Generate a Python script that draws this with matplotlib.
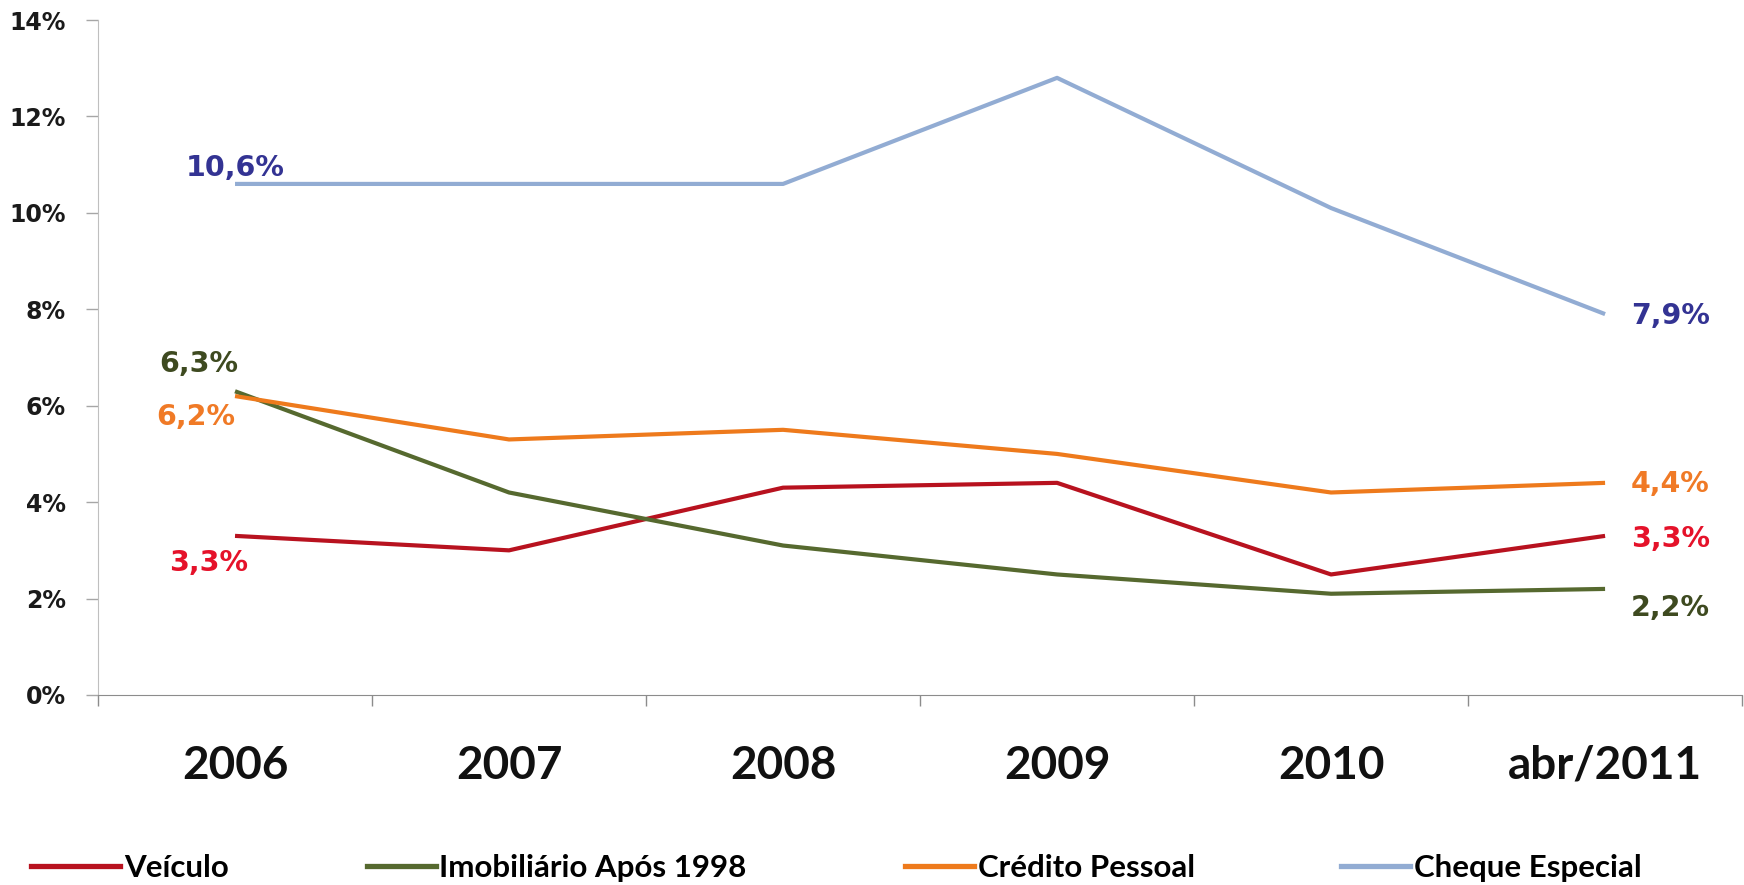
import matplotlib
matplotlib.use("Agg")
import matplotlib.pyplot as plt
from matplotlib.lines import Line2D

# Taxas de inadimplencia por modalidade (% da carteira)
anos = ["2006", "2007", "2008", "2009", "2010", "abr/2011"]
veiculo = [3.3, 3.0, 4.3, 4.4, 2.5, 3.3]
imobiliario = [6.3, 4.2, 3.1, 2.5, 2.1, 2.2]
credito_pessoal = [6.2, 5.3, 5.5, 5.0, 4.2, 4.4]
cheque_especial = [10.6, 10.6, 10.6, 12.8, 10.1, 7.9]

nomes = ["Veículo", "Imobiliário Após 1998", "Crédito Pessoal", "Cheque Especial"]
series = [veiculo, imobiliario, credito_pessoal, cheque_especial]
cores_linha = ["#B8121F", "#56692F", "#EE7A1C", "#92ACD3"]
cores_rotulo = ["#E5122A", "#3E4A20", "#F07A26", "#333393"]

# rotulos: (serie, indice, ha, dx, dy) com deslocamento em pixels
rotulos = [
    (3, 0, "center", 0, 16),
    (1, 0, "right", 3, 27),
    (2, 0, "right", 0, -21),
    (0, 0, "center", -26, -27),
    (3, 5, "left", 26, -2),
    (2, 5, "left", 26, -1),
    (0, 5, "left", 26, -3),
    (1, 5, "left", 26, -19),
]

fig = plt.figure(figsize=(17.44, 8.85), dpi=100)
ax = fig.add_axes([0.0562, 0.2147, 0.9427, 0.7627])

x = list(range(len(anos)))
linhas = []
for nome, vals, cor in zip(nomes, series, cores_linha):
    l, = ax.plot(x, vals, color=cor, lw=3.0, solid_capstyle="butt", label=nome)
    linhas.append(l)

for s, i, ha, dx, dy in rotulos:
    txt = ("%.1f%%" % series[s][i]).replace(".", ",")
    ax.annotate(txt, (x[i], series[s][i]), xytext=(dx, dy), textcoords="offset pixels",
                ha=ha, va="center", fontsize=20.5, fontweight="bold",
                color=cores_rotulo[s], family="DejaVu Sans")

ax.set_xlim(-0.5, len(anos) - 0.5)
ax.set_ylim(0, 14)
ax.set_yticks(range(0, 15, 2))
ax.set_yticklabels(["%d%%" % v for v in range(0, 15, 2)],
                   fontsize=17, fontweight="bold", color="#1A1A1A")
ax.tick_params(axis="y", direction="out", length=9, width=1, color="#A6A6A6", pad=14)

ax.set_xticks(x)
ax.set_xticklabels(anos, fontsize=33, fontweight="bold", family="Lato", color="#111111")
ax.set_xticks([v - 0.5 for v in range(len(anos) + 1)], minor=True)
ax.tick_params(axis="x", which="major", length=0, pad=36)
ax.tick_params(axis="x", which="minor", direction="out", length=8, width=1, color="#8C8C8C")

for lado in ["top", "right"]:
    ax.spines[lado].set_visible(False)
ax.spines["left"].set_color("#BFBFBF")
ax.spines["bottom"].set_color("#8C8C8C")

# legenda em quatro blocos separados ao longo da base
pos_leg = [0.0178, 0.2104, 0.519, 0.769]
comp_leg = [2.85, 2.2, 2.2, 2.2]
for l, px, hl in zip(linhas, pos_leg, comp_leg):
    h = Line2D([], [], color=l.get_color(), lw=3.8)
    fig.legend([h], [l.get_label()], loc="center left", bbox_to_anchor=(px, 0.019),
               frameon=False, borderpad=0, borderaxespad=0, handlelength=hl,
               handletextpad=0.12, prop={"family": "Lato", "size": 22.5, "weight": "bold"})

fig.savefig("out.png", dpi=100)
